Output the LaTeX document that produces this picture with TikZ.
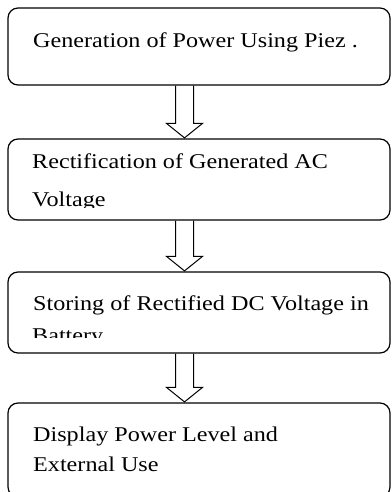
\documentclass[tikz,border=0pt]{standalone}
\usepackage{fontspec}
\setmainfont{Liberation Serif}[FakeStretch=1.15]
\usetikzlibrary{calc}
\begin{document}
\begin{tikzpicture}[x=1pt,y=1pt,
  box/.style={draw=black, line width=1.2pt, rounded corners=10pt, inner sep=0pt},
  txt/.style={anchor=base west, inner sep=0pt, font=\fontsize{21}{25}\selectfont},
  arr/.style={draw=black, line width=1pt, line join=miter}]
\useasboundingbox (0,0) rectangle (391,-492);
\clip (0,0) rectangle (391,-492);
% boxes
\node[box, minimum width=382pt, minimum height=77pt] (b1) at (199,-46.5) {};
\node[box, minimum width=382pt, minimum height=81pt] (b2) at (199,-179.5) {};
\node[box, minimum width=382pt, minimum height=81pt] (b3) at (199,-312.5) {};
\node[box, minimum width=382pt, minimum height=94pt] (b4) at (199,-450) {};
% texts
\node[txt] (t1) at (33,-47.3) {Generation of Power Using Piez .};
\node[txt] (t2a) at (32,-168) {Rectification of Generated AC};
\begin{scope}
\clip (10,-150) rectangle (380,-207.5);
\node[txt] (t2b) at (32,-206) {Voltage};
\end{scope}
\node[txt] (t3a) at (33,-310.5) {Storing of Rectified DC Voltage in};
\begin{scope}
\clip (10,-320) rectangle (380,-337);
\node[txt] (t3b) at (32,-342) {Battery};
\end{scope}
\node[txt] (t4a) at (33,-441.7) {Display Power Level and};
\node[txt] (t4b) at (33,-471.7) {External Use};
% arrows
\foreach \a/\b in {b1/b2, b2/b3, b3/b4}{
  \draw[arr] let \p1=(\a.south), \p2=(\b.north) in
    ({175.5pt},{\y1}) -- ({175.5pt},{\y2+15pt}) -- ({166.5pt},{\y2+15pt}) --
    ({184.5pt},{\y2+0.5pt}) -- ({202.5pt},{\y2+15pt}) -- ({193.5pt},{\y2+15pt}) --
    ({193.5pt},{\y1});
}
\end{tikzpicture}
\end{document}
